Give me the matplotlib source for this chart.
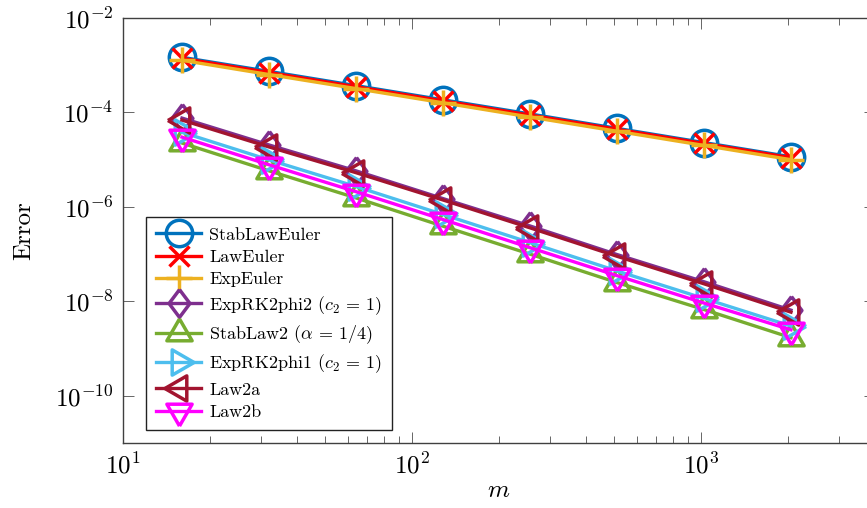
import math
import matplotlib
matplotlib.use("Agg")
import matplotlib.pyplot as plt
from matplotlib.ticker import FixedLocator, LogLocator, FuncFormatter, NullLocator

plt.rcParams["font.family"] = ["cmr10", "DejaVu Serif"]
plt.rcParams["mathtext.fontset"] = "cm"
plt.rcParams["axes.formatter.use_mathtext"] = True

# Data
m = [16, 32, 64, 128, 256, 512, 1024, 2048]

stab_law_euler = [1.47e-3, 7.4e-4, 3.7e-4, 1.85e-4, 9.3e-5, 4.6e-5, 2.3e-5, 1.15e-5]
law_euler = [1.40e-3, 7.0e-4, 3.5e-4, 1.76e-4, 8.8e-5, 4.4e-5, 2.2e-5, 1.1e-5]
exp_euler = [1.27e-3, 6.35e-4, 3.2e-4, 1.6e-4, 8.0e-5, 4.0e-5, 2.0e-5, 1.0e-5]
exp_rk2_phi2 = [7.6e-5, 2.05e-5, 5.8e-6, 1.5e-6, 3.95e-7, 9.8e-8, 2.6e-8, 6.5e-9]
stab_law2 = [2.25e-5, 5.8e-6, 1.55e-6, 3.9e-7, 1.0e-7, 2.5e-8, 6.7e-9, 1.7e-9]
exp_rk2_phi1 = [3.8e-5, 9.9e-6, 2.7e-6, 6.9e-7, 1.75e-7, 4.4e-8, 1.15e-8, 3.0e-9]
law2a = [6.9e-5, 1.86e-5, 5.3e-6, 1.4e-6, 3.6e-7, 9.0e-8, 2.35e-8, 5.9e-9]
law2b = [3.0e-5, 7.8e-6, 2.1e-6, 5.4e-7, 1.37e-7, 3.5e-8, 9.2e-9, 2.5e-9]

labels = ["StabLawEuler", "LawEuler", "ExpEuler", r"ExpRK2phi2 ($c_2$ = 1)",
          r"StabLaw2 ($\alpha$ = 1/4)", r"ExpRK2phi1 ($c_2$ = 1)", "Law2a", "Law2b"]

# marker shapes (pgfplots style)
tri_up = [(0, 1), (-0.866, -0.5), (0.866, -0.5), (0, 1)]
tri_down = [(0, -1), (-0.866, 0.5), (0.866, 0.5), (0, -1)]
tri_right = [(1, 0), (-0.5, 0.866), (-0.5, -0.866), (1, 0)]
tri_left = [(-1, 0), (0.5, 0.866), (0.5, -0.866), (-1, 0)]
diamond = [(0, 1), (0.75, 0), (0, -1), (-0.75, 0), (0, 1)]

series = [
    (stab_law_euler, "#0072BD", "o", 19),
    (law_euler, "#FF0000", "x", 14),
    (exp_euler, "#EDB120", "+", 19),
    (exp_rk2_phi2, "#7E2F8E", diamond, 20),
    (stab_law2, "#77AC30", tri_up, 21),
    (exp_rk2_phi1, "#4DBEEE", tri_right, 21),
    (law2a, "#A2142F", tri_left, 21),
    (law2b, "#FF00FF", tri_down, 21),
]

fig = plt.figure(figsize=(8.67, 5.08), dpi=100)
ax = fig.add_axes([123 / 867, 1 - 443 / 508, 752 / 867, 425 / 508])

for (vals, col, mk, ms), lab in zip(series, labels):
    ax.plot(m, vals, color=col, lw=2.4, marker=mk, markersize=ms,
            markerfacecolor="none", markeredgecolor=col, markeredgewidth=2.5,
            label=lab)

ax.set_xscale("log")
ax.set_yscale("log")
ax.set_xlim(10, 4000)
ax.set_ylim(1e-11, 1e-2)

pow_fmt = FuncFormatter(lambda v, p: r"$10^{%d}$" % round(math.log10(v)))
ax.yaxis.set_major_locator(FixedLocator([1e-10, 1e-8, 1e-6, 1e-4, 1e-2]))
ax.yaxis.set_minor_locator(NullLocator())
ax.yaxis.set_major_formatter(pow_fmt)
ax.xaxis.set_major_locator(FixedLocator([10, 100, 1000]))
ax.xaxis.set_minor_locator(LogLocator(base=10, subs=range(2, 10)))
ax.xaxis.set_major_formatter(pow_fmt)

ax.tick_params(which="both", direction="in", top=True, right=True, color="#666666")
ax.tick_params(which="major", length=8, width=0.7, labelsize=18, pad=7)
ax.tick_params(which="minor", length=5, width=0.7)
for s in ax.spines.values():
    s.set_color("#404040")
    s.set_linewidth(1.0)

ax.set_xlabel(r"$m$", fontsize=18, labelpad=1)
ax.set_ylabel("Error", fontsize=18, labelpad=14)

leg = ax.legend(loc="lower left", bbox_to_anchor=(0.0306, 0.0306), borderaxespad=0,
                fontsize=13, numpoints=1, handlelength=2.5, handletextpad=0.45,
                labelspacing=0.37, borderpad=0.55, fancybox=False, framealpha=1)
leg.get_frame().set_edgecolor("#222222")
leg.get_frame().set_linewidth(1.0)

fig.savefig("out.png", dpi=100)
